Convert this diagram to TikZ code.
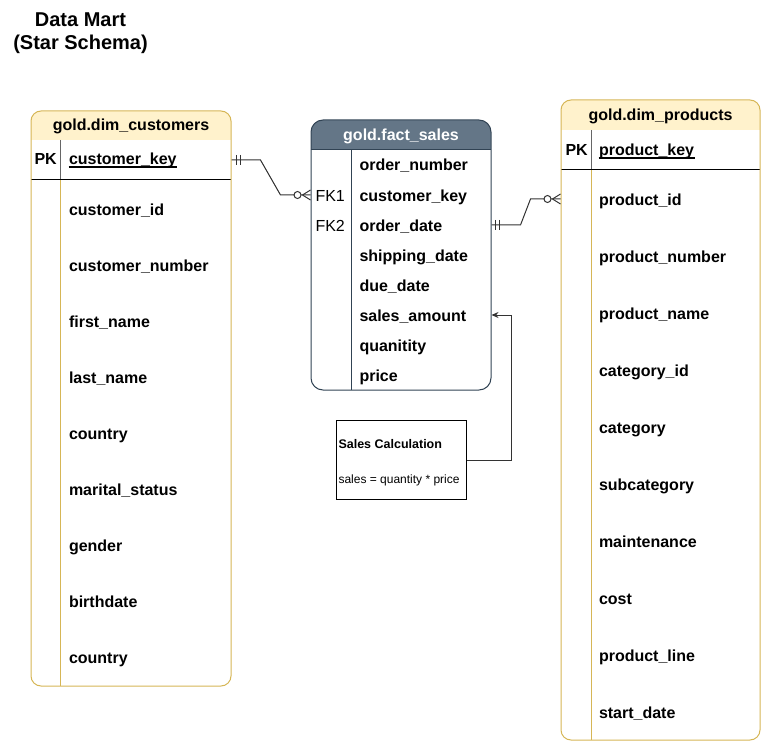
\documentclass[tikz,border=0pt]{standalone}
\usepackage{fontspec}
\setmainfont{Liberation Sans}
\usetikzlibrary{calc,arrows.meta}
\definecolor{goldline}{HTML}{D6B656}
\definecolor{goldfill}{HTML}{FFF2CC}
\definecolor{slate}{HTML}{647687}
\definecolor{slateline}{HTML}{314354}
\begin{document}
\begin{tikzpicture}[x=1pt,y=-1pt,line width=1pt,
  rowtxt/.style={anchor=base west,inner sep=0pt,font=\fontsize{16}{19}\selectfont\bfseries},
  keytxt/.style={anchor=base west,inner sep=0pt,font=\fontsize{16}{19}\selectfont},
  headtxt/.style={anchor=base,inner sep=0pt,font=\fontsize{16}{19}\selectfont\bfseries},
  conn/.style={line width=1pt,draw=black!80},
  erbar/.style={line width=1pt,draw=black!80},
  uline/.style={line width=1.2pt,draw=black},
  notebox/.style={draw=black,line width=1pt,minimum width=130pt,minimum height=79pt,inner sep=0pt}]
\useasboundingbox (0,0) rectangle (761,741);

% Title
\node[headtxt,font=\fontsize{20}{24}\selectfont\bfseries] (t1) at (80.5,26.5) {Data Mart};
\node[headtxt,font=\fontsize{20}{24}\selectfont\bfseries] (t2) at (80.5,50) {(Star Schema)};

% ---------- gold.dim_customers ----------
\begin{scope}
  \clip[rounded corners=10pt] (31,111) rectangle (231,686);
  \fill[white] (31,111) rectangle (231,686);
  \fill[goldfill] (31,111) rectangle (231,140);
\end{scope}
\draw[goldline] (60.5,180) -- (60.5,686);
\draw[black!60] (60.5,140) -- (60.5,180);
\draw[black] (31,180) -- (231,180);
\node[draw=goldline,rounded corners=10pt,minimum width=200pt,minimum height=575pt,inner sep=0pt] (cust) at (131,398.5) {};
\node[headtxt] (custh) at (131,131) {gold.dim\_customers};
\node[rowtxt] (custpk) at (34,165) {PK};
\node[rowtxt] (custkey) at (68.5,165) {customer\_key};
\draw[uline] ($(custkey.base west)+(0,2)$) -- ($(custkey.base east)+(0,2)$);
\node[rowtxt] (c1) at (68.5,215.5) {customer\_id};
\node[rowtxt] (c2) at (68.5,271.5) {customer\_number};
\node[rowtxt] (c3) at (68.5,327.5) {first\_name};
\node[rowtxt] (c4) at (68.5,383.5) {last\_name};
\node[rowtxt] (c5) at (68.5,439.5) {country};
\node[rowtxt] (c6) at (68.5,495.5) {marital\_status};
\node[rowtxt] (c7) at (68.5,551.5) {gender};
\node[rowtxt] (c8) at (68.5,607.5) {birthdate};
\node[rowtxt] (c9) at (68.5,663.5) {country};

% ---------- gold.fact_sales ----------
\begin{scope}
  \clip[rounded corners=12pt] (311,120) rectangle (491,390);
  \fill[white] (311,120) rectangle (491,390);
  \fill[slate] (311,120) rectangle (491,150);
\end{scope}
\draw[slateline] (351,150) -- (351,390);
\draw[slateline] (311,150) -- (491,150);
\node[draw=slateline,rounded corners=12pt,minimum width=180pt,minimum height=270pt,inner sep=0pt] (fact) at (401,255) {};
\node[headtxt,text=white] (facth) at (401,141) {gold.fact\_sales};
\node[rowtxt] (f1) at (359,171) {order\_number};
\node[keytxt] (fk1) at (315,201) {FK1};
\node[rowtxt] (f2) at (359,201) {customer\_key};
\node[keytxt] (fk2) at (315,231) {FK2};
\node[rowtxt] (f3) at (359,231) {order\_date};
\node[rowtxt] (f4) at (359,261) {shipping\_date};
\node[rowtxt] (f5) at (359,291) {due\_date};
\node[rowtxt] (f6) at (359,321) {sales\_amount};
\node[rowtxt] (f7) at (359,351) {quanitity};
\node[rowtxt] (f8) at (359,381) {price};

% ---------- gold.dim_products ----------
\begin{scope}
  \clip[rounded corners=10pt] (561,100) rectangle (760,740);
  \fill[white] (561,100) rectangle (760,740);
  \fill[goldfill] (561,100) rectangle (760,130);
\end{scope}
\draw[goldline] (591,170) -- (591,740);
\draw[black!60] (591,130) -- (591,170);
\draw[black] (561,170) -- (760,170);
\node[draw=goldline,rounded corners=10pt,minimum width=199pt,minimum height=640pt,inner sep=0pt] (prod) at (660.5,420) {};
\node[headtxt] (prodh) at (660.5,121) {gold.dim\_products};
\node[rowtxt] (prodpk) at (565,156) {PK};
\node[rowtxt] (prodkey) at (598.5,156) {product\_key};
\draw[uline] ($(prodkey.base west)+(0,2)$) -- ($(prodkey.base east)+(0,2)$);
\node[rowtxt] (p1) at (598.5,205) {product\_id};
\node[rowtxt] (p2) at (598.5,262) {product\_number};
\node[rowtxt] (p3) at (598.5,319) {product\_name};
\node[rowtxt] (p4) at (598.5,376) {category\_id};
\node[rowtxt] (p5) at (598.5,433) {category};
\node[rowtxt] (p6) at (598.5,490) {subcategory};
\node[rowtxt] (p7) at (598.5,547) {maintenance};
\node[rowtxt] (p8) at (598.5,604) {cost};
\node[rowtxt] (p9) at (598.5,661) {product\_line};
\node[rowtxt] (p10) at (598.5,718) {start\_date};

% ---------- Sales Calculation note ----------
\node[notebox] (calc) at (401,460) {};
\node[anchor=base west,inner sep=0pt,font=\fontsize{12.5}{15}\selectfont\bfseries] (calct) at (338,448.5) {Sales Calculation};
\node[anchor=base west,inner sep=0pt,font=\fontsize{12}{14}\selectfont] (calcf) at (338,483.5) {sales = quantity * price};

% ---------- connectors ----------
% customers.customer_key -> fact.customer_key
\coordinate (a1) at (cust.east |- 0,160);
\coordinate (a2) at (fact.west |- 0,195);
\draw[conn] (a1) -- ++(29,0) -- ($(a2)+(-30,0)$) -- (a2);
\draw[erbar] ($(a1)+(5,-5)$) -- ++(0,10);
\draw[erbar] ($(a1)+(9,-5)$) -- ++(0,10);
\draw[conn,fill=white] ($(a2)+(-13,0)$) circle (3.5pt);
\draw[conn] ($(a2)+(-8,0)$) -- ($(a2)+(0,-5)$);
\draw[conn] ($(a2)+(-8,0)$) -- ($(a2)+(0,5)$);

% fact.order_date -> products.product_id
\coordinate (b1) at (fact.east |- 0,225);
\coordinate (b2) at (prod.west |- 0,199);
\draw[conn] (b1) -- ++(29,0) -- ($(b2)+(-30,0)$) -- (b2);
\draw[erbar] ($(b1)+(4,-5)$) -- ++(0,10);
\draw[erbar] ($(b1)+(8,-5)$) -- ++(0,10);
\draw[conn,fill=white] ($(b2)+(-13,0)$) circle (3.5pt);
\draw[conn] ($(b2)+(-8,0)$) -- ($(b2)+(0,-5)$);
\draw[conn] ($(b2)+(-8,0)$) -- ($(b2)+(0,5)$);

% calc -> sales_amount
\coordinate (d1) at (fact.east |- 0,315);
\draw[conn,-{Stealth[length=7pt,width=6pt]}] (calc.east) -- (511,460) -- (511,315) -- (d1);
\end{tikzpicture}
\end{document}
